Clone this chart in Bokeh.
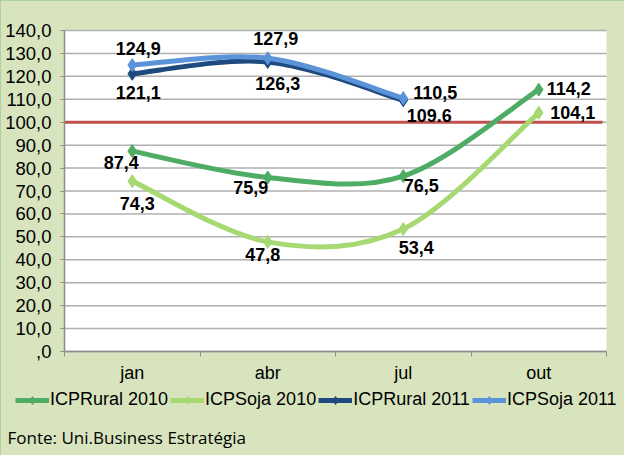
from bokeh.plotting import figure
from bokeh.models import (Range1d, FixedTicker, Legend, LegendItem, Label,
                          BoxAnnotation, ColumnDataSource, InlineStyleSheet)
from bokeh.core.properties import value
from bokeh.embed import file_html
from bokeh.resources import INLINE

# ---------------- data ----------------
months = ["jan", "abr", "jul", "out"]
icp_rural_2010 = [87.4, 75.9, 76.5, 114.2]
icp_soja_2010 = [74.3, 47.8, 53.4, 104.1]
icp_rural_2011 = [121.1, 126.3, 109.6]
icp_soja_2011 = [124.9, 127.9, 110.5]
rural_2011_labels = ["121,1", "126,3", "109.6"]
reference_level = 100
y_min, y_max = 0, 140
y_ticks = list(range(0, 150, 10))
y_tick_labels = [",0" if t == 0 else f"{t:.1f}".replace(".", ",") for t in y_ticks]
source_note = "Fonte: Uni.Business Estratégia"

# ---------------- styles / layout ----------------
W, H = 624, 455
PL, PR, PT, PB = 64, 606, 30, 351          # plot-area box in canvas pixels
BG = "#d7e4bd"
FONT = "Liberation Sans"
GRID = "#b0b0b0"
AXIS = "#8c8c8c"
series = [
    ("ICPRural 2010", icp_rural_2010, None, "#4fac64", [(-11, 11), (-17, 10), (18, 9), (30, -1)]),
    ("ICPSoja 2010", icp_soja_2010, None, "#a6d971", [(5, 22), (-5, 13), (13, 18), (34, 0)]),
    ("ICPRural 2011", icp_rural_2011, rural_2011_labels, "#1f4a80", [(6, 19), (10, 22), (26, 15)]),
    ("ICPSoja 2011", icp_soja_2011, None, "#5b93d9", [(6, -17), (8, -20), (32, -6)]),
]

ncat = len(months)
xpx = (PR - PL) / ncat
ypx = (PB - PT) / (y_max - y_min)
x_range = Range1d(-PL / xpx, ncat + (W - PR) / xpx)
y_range = Range1d(y_min - (H - PB) / ypx, y_max + PT / ypx)

p = figure(width=W, height=H, output_backend="svg", toolbar_location=None,
           x_range=x_range, y_range=y_range,
           min_border=0, min_border_left=0, min_border_right=0,
           min_border_top=0, min_border_bottom=0)
p.background_fill_color = BG
p.border_fill_color = BG
p.outline_line_color = None
p.stylesheets = [InlineStyleSheet(css=":host { outline: 2px solid #86c176; outline-offset: -2px; }")]
p.xgrid.grid_line_color = None
p.ygrid.grid_line_color = None

# white plot area
p.add_layout(BoxAnnotation(left=0, right=ncat, bottom=y_min, top=y_max, fill_color="white",
                           fill_alpha=1, line_color=None, level="underlay"))

# horizontal gridlines at the tick values
p.segment(x0=[0] * len(y_ticks), x1=[ncat] * len(y_ticks), y0=y_ticks, y1=y_ticks,
          line_color=GRID, line_width=1.5)

# reference line at 100
p.segment(x0=[0], x1=[ncat - 0.03], y0=[reference_level], y1=[reference_level],
          line_color="#c0504d", line_width=3)

# axes
xa = p.xaxis[0]
xa.fixed_location = y_min
xa.bounds = (0, ncat)
xa.ticker = FixedTicker(ticks=[i + 0.5 for i in range(ncat)], minor_ticks=list(range(ncat + 1)))
xa.major_label_overrides = {i + 0.5: m for i, m in enumerate(months)}
xa.major_tick_out = 0
xa.major_tick_in = 0
xa.minor_tick_out = 5
xa.minor_tick_in = 0
xa.minor_tick_line_color = AXIS
xa.axis_line_color = AXIS
xa.axis_line_width = 1.5
xa.major_label_text_font = FONT
xa.major_label_text_font_size = "18px"
xa.major_label_text_color = "#000000"
xa.major_label_standoff = 6

ya = p.yaxis[0]
ya.fixed_location = 0
ya.bounds = (y_min, y_max)
ya.ticker = FixedTicker(ticks=y_ticks, minor_ticks=[])
ya.major_label_overrides = {t: l for t, l in zip(y_ticks, y_tick_labels)}
ya.major_tick_out = 4
ya.major_tick_in = 0
ya.minor_tick_out = 0
ya.minor_tick_in = 0
ya.major_tick_line_color = AXIS
ya.axis_line_color = AXIS
ya.axis_line_width = 1.5
ya.major_label_text_font = FONT
ya.major_label_text_font_size = "18.5px"
ya.major_label_text_color = "#000000"
ya.major_label_standoff = 9

legend_items = []
for name, vals, labs, color, offs in series:
    xs = [i + 0.5 for i in range(len(vals))]
    n = len(vals)
    # smoothed (Catmull-Rom style) bezier segments through the data points
    x0, y0, x1, y1, cx0, cy0, cx1, cy1 = [], [], [], [], [], [], [], []
    for i in range(n - 1):
        pm = max(i - 1, 0)
        pp = min(i + 2, n - 1)
        x0.append(xs[i]); y0.append(vals[i])
        x1.append(xs[i + 1]); y1.append(vals[i + 1])
        cx0.append(xs[i] + (xs[i + 1] - xs[pm]) / 6)
        cy0.append(vals[i] + (vals[i + 1] - vals[pm]) / 6)
        cx1.append(xs[i + 1] - (xs[pp] - xs[i]) / 6)
        cy1.append(vals[i + 1] - (vals[pp] - vals[i]) / 6)
    bz = p.bezier(x0=x0, y0=y0, x1=x1, y1=y1, cx0=cx0, cy0=cy0, cx1=cx1, cy1=cy1,
                  line_color=color, line_width=5)
    sc = p.scatter(xs, vals, marker="diamond", size=13, fill_color=color, line_color=color)
    legend_items.append(LegendItem(label=name, renderers=[bz, sc]))
    texts = labs if labs is not None else [f"{v:.1f}".replace(".", ",") for v in vals]
    src = ColumnDataSource(dict(x=xs, y=vals, t=texts,
                                xo=[o[0] for o in offs], yo=[o[1] for o in offs]))
    p.text(x="x", y="y", text="t", x_offset="xo", y_offset="yo", source=src,
           text_font=value(FONT), text_font_size="18px", text_font_style="bold",
           text_color="#000000", text_align="center", text_baseline="middle")

legend = Legend(items=legend_items, orientation="horizontal", location=(15, 45),
                label_text_font=FONT, label_text_font_size="18px", label_text_color="#000000",
                glyph_width=34, glyph_height=20, label_height=20, label_standoff=1,
                spacing=2, padding=0, margin=0, border_line_color=None,
                background_fill_alpha=0)
p.add_layout(legend, "center")

p.add_layout(Label(x=7, y=H - 437, x_units="screen", y_units="screen", text=source_note,
                   text_font="Open Sans", text_font_size="17px", text_color="#000000",
                   text_baseline="middle"))

open("out.html", "w").write(file_html(p, INLINE))
